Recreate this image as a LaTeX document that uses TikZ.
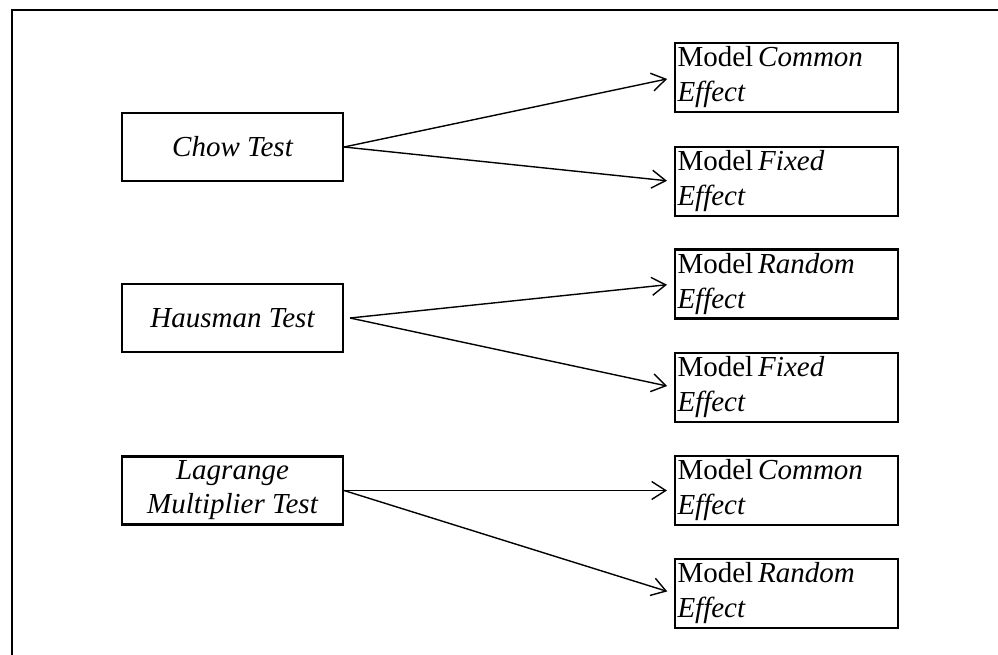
\documentclass[tikz,border=0pt]{standalone}
\usepackage{fontspec}
\setmainfont{Liberation Serif}
\usetikzlibrary{arrows.meta}
\begin{document}
\begin{tikzpicture}[x=1pt,y=-1pt,
  testbox/.style={draw, line width=2.1pt, minimum width=221pt, minimum height=68pt, align=center, inner sep=0pt, font=\fontsize{29}{34}\selectfont\itshape},
  modelbox/.style={draw, line width=2.1pt, minimum width=223pt, minimum height=69pt, text width=218pt, align=left, inner xsep=2.5pt, inner ysep=0pt, font=\fontsize{29}{35}\selectfont},
  conn/.style={line width=1.4pt, -{Straight Barb[length=14pt, width=18pt, line width=1.4pt]}, shorten >=7pt}
]
\useasboundingbox (0,0) rectangle (998,655);
\fill[white] (0,0) rectangle (998,655);
\draw[line width=2.2pt] (12,700) -- (12,10) -- (1100,10);

\node[testbox] (chow) at (232.5,147) {Chow Test};
\node[testbox] (haus) at (232.5,318) {Hausman Test};
\node[testbox] (lag) at (232.5,490.5) {Lagrange\\Multiplier Test};

\node[modelbox] (r1) at (786.5,77.5) {Model\hspace{5pt}\textit{Common}\\\textit{Effect}};
\node[modelbox] (r2) at (786.5,181.5) {Model\hspace{5pt}\textit{Fixed}\\\textit{Effect}};
\node[modelbox] (r3) at (786.5,284) {Model\hspace{5pt}\textit{Random}\\\textit{Effect}};
\node[modelbox] (r4) at (786.5,387.5) {Model\hspace{5pt}\textit{Fixed}\\\textit{Effect}};
\node[modelbox] (r5) at (786.5,490.5) {Model\hspace{5pt}\textit{Common}\\\textit{Effect}};
\node[modelbox] (r6) at (786.5,593.5) {Model\hspace{5pt}\textit{Random}\\\textit{Effect}};

\draw[conn] (chow.east) -- (r1.west);
\draw[conn] (chow.east) -- (r2.west);
\draw[conn] ([xshift=6pt]haus.east) -- (r3.west);
\draw[conn] ([xshift=6pt]haus.east) -- (r4.west);
\draw[conn] (lag.east) -- (r5.west);
\draw[conn] (lag.east) -- (r6.west);
\end{tikzpicture}
\end{document}
